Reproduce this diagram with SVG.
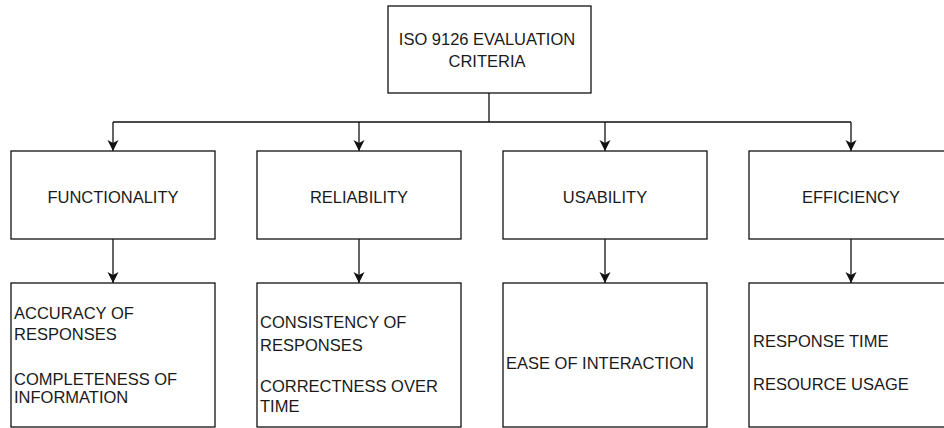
<svg xmlns="http://www.w3.org/2000/svg" width="944" height="428" viewBox="0 0 944 428">
<defs>
<marker id="arr" markerUnits="userSpaceOnUse" markerWidth="14" markerHeight="14" refX="11" refY="5.5" orient="auto">
<path d="M0,0 L11,5.5 L0,11 L3,5.5 Z" fill="#111"/>
</marker>
<style>
rect{fill:#fff;stroke:#111;stroke-width:1.3}
text{font-family:"Liberation Sans",Arial,sans-serif;font-size:16.5px;fill:#1a1a1a}
.c{text-anchor:middle}
.ln{fill:none;stroke:#111;stroke-width:1.3}
.ar{fill:none;stroke:#111;stroke-width:1.3;marker-end:url(#arr)}
</style>
</defs>
<rect x="0" y="0" width="944" height="428" style="fill:#fff;stroke:none"/>
<g id="connectors">
<path class="ln" d="M489,93 V122 M113,122 H851"/>
<path class="ar" d="M113,122 V151"/>
<path class="ar" d="M359,122 V151"/>
<path class="ar" d="M605,122 V151"/>
<path class="ar" d="M851,122 V151"/>
<path class="ar" d="M113,239 V283"/>
<path class="ar" d="M359,239 V283"/>
<path class="ar" d="M605,239 V283"/>
<path class="ar" d="M851,239 V283"/>
</g>
<g id="root">
<rect x="388" y="6" width="203" height="87"/>
<text class="c" x="487" y="45">ISO 9126 EVALUATION</text>
<text class="c" x="487" y="67">CRITERIA</text>
</g>
<g id="functionality">
<rect x="11" y="151" width="204" height="88"/>
<text class="c" x="113" y="202.5">FUNCTIONALITY</text>
</g>
<g id="reliability">
<rect x="257" y="151" width="204" height="88"/>
<text class="c" x="359" y="202.5">RELIABILITY</text>
</g>
<g id="usability">
<rect x="503" y="151" width="204" height="88"/>
<text class="c" x="605" y="202.5">USABILITY</text>
</g>
<g id="efficiency">
<rect x="749" y="151" width="204" height="88"/>
<text class="c" x="851" y="202.5">EFFICIENCY</text>
</g>
<g id="functionality-details">
<rect x="11" y="283" width="204" height="144"/>
<text x="14" y="319">ACCURACY OF</text>
<text x="14" y="340">RESPONSES</text>
<text x="14" y="385">COMPLETENESS OF</text>
<text x="14" y="403">INFORMATION</text>
</g>
<g id="reliability-details">
<rect x="257" y="283" width="204" height="144"/>
<text x="260" y="328">CONSISTENCY OF</text>
<text x="260" y="350.5">RESPONSES</text>
<text x="260" y="391.5">CORRECTNESS OVER</text>
<text x="260" y="411.5">TIME</text>
</g>
<g id="usability-details">
<rect x="503" y="283" width="204" height="144"/>
<text x="506" y="369">EASE OF INTERACTION</text>
</g>
<g id="efficiency-details">
<rect x="749" y="283" width="204" height="144"/>
<text x="753" y="347">RESPONSE TIME</text>
<text x="753" y="389.5">RESOURCE USAGE</text>
</g>
</svg>
